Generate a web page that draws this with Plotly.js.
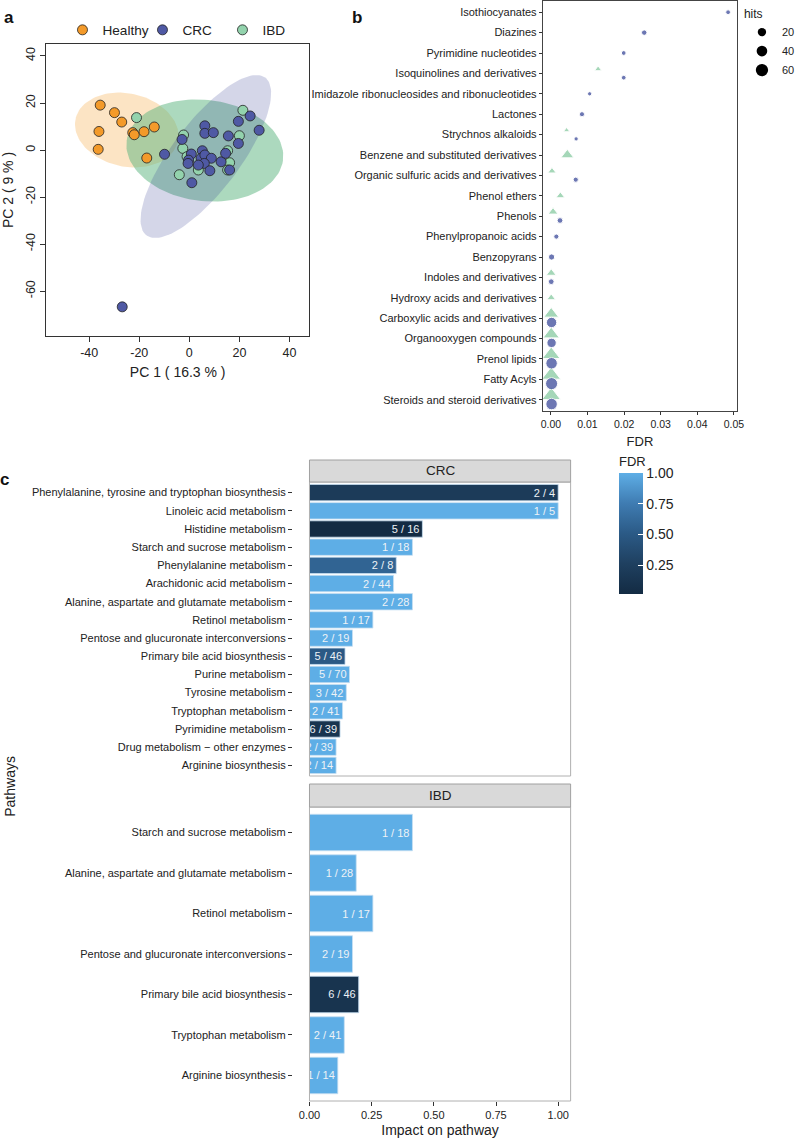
<!DOCTYPE html>
<html><head><meta charset="utf-8">
<script src="https://cdn.plot.ly/plotly-3.0.1.min.js"></script>
<style>html,body{margin:0;padding:0;background:#fff}</style>
</head><body><div id="chart" style="width:800px;height:1138px"></div>
<script>
// ---------------- Panel a: PCA scores ----------------
const healthyPC1 = [-35.6, -29.9, -27.0, -36.1, -36.4, -22.6, -22.0, -18.1, -14.0, -17.0];
const healthyPC2 = [19.1, 15.9, 11.9, 7.9, 0.3, 7.4, 6.5, 7.8, 9.8, -3.4];
const ibdPC1 = [-21.1, -2.3, -2.6, -4.0, 3.6, 15.3, 16.1, 15.3, 20.0, 21.4, -0.9];
const ibdPC2 = [13.8, 6.4, 0.7, -10.5, -8.5, -0.3, -5.4, -8.5, 6.1, 16.9, -2.8];
const crcPC1 = [-9.9, 6.2, 6.2, 9.6, 15.6, 19.6, 24.3, 27.9, 19.6, -2.9, 0.8, -0.3, -0.5, 5.2, 4.7, 6.2, 8.8, 6.0, 3.6, 8.2, 1.0, 12.7, 14.5, 16.1, -26.8];
const crcPC2 = [-1.8, 10.3, 7.1, 7.4, 6.0, 12.2, 14.5, 8.4, 2.8, 4.5, -1.7, -4.3, -5.7, -0.3, -3.5, -2.1, -3.5, -5.7, -6.4, -8.8, -13.9, -5.0, -1.4, -8.5, -66.7];
const pcaXTicks = [-40, -20, 0, 20, 40];
const pcaXTickText = ['-40', '-20', '0', '20', '40'];
const pcaYTicks = [-60, -40, -20, 0, 20, 40];
const pcaYTickText = ['-60', '-40', '-20', '0', '20', '40'];
// confidence ellipses (centre, semi-axes, rotation in degrees)
const ellipseGroups = ['Healthy', 'IBD', 'CRC'];
const ellipseCX = [-25.0, 6.2, 6.6];
const ellipseCY = [8.5, -0.2, -2.75];
const ellipseA = [21.0, 31.5, 41.1];
const ellipseB = [15.5, 21.5, 13.9];
const ellipseAngle = [-15, -8, 55.2];

// ---------------- Panel b: chemical classes ----------------
const chemCategories = ['Isothiocyanates', 'Diazines', 'Pyrimidine nucleotides', 'Isoquinolines and derivatives',
  'Imidazole ribonucleosides and ribonucleotides', 'Lactones', 'Strychnos alkaloids', 'Benzene and substituted derivatives',
  'Organic sulfuric acids and derivatives', 'Phenol ethers', 'Phenols', 'Phenylpropanoic acids', 'Benzopyrans',
  'Indoles and derivatives', 'Hydroxy acids and derivatives', 'Carboxylic acids and derivatives', 'Organooxygen compounds',
  'Prenol lipids', 'Fatty Acyls', 'Steroids and steroid derivatives'];
const crcFDR = [0.0484, 0.0255, 0.0199, 0.0199, 0.0106, 0.0085, 0.0069, null, 0.0068, null, 0.0025, 0.0015, 0.0002, 0.0001, null, 0.0002, 0.0002, 0.0002, 0.0002, 0.0002];
const crcHits = [2, 4, 2, 2, 1, 3, 1, null, 3, null, 5, 3, 7, 5, null, 37, 28, 50, 57, 50];
const ibdFDR = [null, null, null, 0.0129, null, null, 0.0043, 0.0045, 0.0003, 0.0026, 0.0006, null, null, 0.0001, 0.0001, 0.0001, 0.0001, 0.0001, 0.0001, 0.0001];
const ibdHits = [null, null, null, 2, null, null, 1, 20, 4, 5, 8, null, null, 8, 5, 30, 40, 50, 57, 57];
const hitsLegendValues = [20, 40, 60];
const fdrTicks = [0, 0.01, 0.02, 0.03, 0.04, 0.05];

// ---------------- Panel c: pathway impact ----------------
const crcPathways = ['Phenylalanine, tyrosine and tryptophan biosynthesis', 'Linoleic acid metabolism', 'Histidine metabolism',
  'Starch and sucrose metabolism', 'Phenylalanine metabolism', 'Arachidonic acid metabolism',
  'Alanine, aspartate and glutamate metabolism', 'Retinol metabolism', 'Pentose and glucuronate interconversions',
  'Primary bile acid biosynthesis', 'Purine metabolism', 'Tyrosine metabolism', 'Tryptophan metabolism',
  'Pyrimidine metabolism', 'Drug metabolism \u2212 other enzymes', 'Arginine biosynthesis'];
const crcImpact = [1.0, 1.0, 0.454, 0.414, 0.349, 0.338, 0.414, 0.255, 0.173, 0.143, 0.161, 0.148, 0.133, 0.123, 0.107, 0.107];
const crcRatio = ['2 / 4', '1 / 5', '5 / 16', '1 / 18', '2 / 8', '2 / 44', '2 / 28', '1 / 17', '2 / 19', '5 / 46', '5 / 70', '3 / 42', '2 / 41', '6 / 39', '2 / 39', '2 / 14'];
const crcPathFDR = [0.2, 1.0, 0.016, 1.0, 0.58, 1.0, 1.0, 1.0, 1.0, 0.5, 1.0, 1.0, 1.0, 0.12, 1.0, 1.0];
const ibdPathways = ['Starch and sucrose metabolism', 'Alanine, aspartate and glutamate metabolism', 'Retinol metabolism',
  'Pentose and glucuronate interconversions', 'Primary bile acid biosynthesis', 'Tryptophan metabolism', 'Arginine biosynthesis'];
const ibdImpact = [0.414, 0.188, 0.255, 0.173, 0.198, 0.14, 0.114];
const ibdRatio = ['1 / 18', '1 / 28', '1 / 17', '2 / 19', '6 / 46', '2 / 41', '1 / 14'];
const ibdPathFDR = [1.0, 1.0, 1.0, 1.0, 0.12, 1.0, 1.0];
const impactTicks = [0, 0.25, 0.5, 0.75, 1.0];
const fdrBarTicks = [0.25, 0.5, 0.75, 1.0];

// ---------------- helpers ----------------
const FONT = 'Liberation Sans, Arial, Helvetica, sans-serif';
const W = 800, H = 1138;
const px = v => v / W;
const py = v => 1 - v / H;
const hitSize = h => 1.15 * (2.66 + 1.04 * Math.sqrt(h));

function ellipsePath(cx, cy, a, b, deg) {
  const t = deg * Math.PI / 180, xs = [], ys = [];
  for (let k = 0; k <= 120; k++) {
    const u = 2 * Math.PI * k / 120;
    xs.push(cx + a * Math.cos(u) * Math.cos(t) - b * Math.sin(u) * Math.sin(t));
    ys.push(cy + a * Math.cos(u) * Math.sin(t) + b * Math.sin(u) * Math.cos(t));
  }
  return {xs, ys};
}
const ellipseFill = {Healthy: 'rgba(245,165,60,0.30)', IBD: 'rgba(90,180,125,0.50)', CRC: 'rgba(40,50,140,0.20)'};

const traces = [];
ellipseGroups.forEach((g, i) => {
  const e = ellipsePath(ellipseCX[i], ellipseCY[i], ellipseA[i], ellipseB[i], ellipseAngle[i]);
  traces.push({type: 'scatter', mode: 'lines', x: e.xs, y: e.ys, fill: 'toself', fillcolor: ellipseFill[g],
    line: {width: 0}, hoverinfo: 'skip', showlegend: false, xaxis: 'x', yaxis: 'y'});
});
const ptLine = {color: '#222', width: 0.8};
traces.push({type: 'scatter', mode: 'markers', name: 'Healthy', x: healthyPC1, y: healthyPC2, legendrank: 1,
  marker: {color: '#f39a2a', size: 10, line: ptLine}, xaxis: 'x', yaxis: 'y'});
traces.push({type: 'scatter', mode: 'markers', name: 'IBD', x: ibdPC1, y: ibdPC2, legendrank: 3,
  marker: {color: '#93d3ad', size: 10, line: ptLine}, xaxis: 'x', yaxis: 'y'});
traces.push({type: 'scatter', mode: 'markers', name: 'CRC', x: crcPC1, y: crcPC2, legendrank: 2,
  marker: {color: '#4f59a4', size: 10, line: ptLine}, xaxis: 'x', yaxis: 'y'});

// panel b: dodge CRC / IBD inside each class
const dodge = 0.21;
const crcY = chemCategories.map((c, i) => crcFDR[i] == null ? null : (ibdFDR[i] == null ? i : i + dodge));
const ibdY = chemCategories.map((c, i) => ibdFDR[i] == null ? null : (crcFDR[i] == null ? i : i - dodge));
traces.push({type: 'scatter', mode: 'markers', x: ibdFDR, y: ibdY, showlegend: false, xaxis: 'x2', yaxis: 'y2',
  marker: {symbol: 'triangle-up', color: '#7fc79b', size: ibdHits.map(h => h == null ? 0 : hitSize(h) * 1.35)}});
traces.push({type: 'scatter', mode: 'markers', x: crcFDR, y: crcY, showlegend: false, xaxis: 'x2', yaxis: 'y2',
  marker: {symbol: 'circle', color: '#2f3e93', size: crcHits.map(h => h == null ? 0 : hitSize(h))}});
hitsLegendValues.forEach(v => {
  traces.push({type: 'scatter', mode: 'markers', x: [null], y: [null], name: String(v), legend: 'legend2',
    xaxis: 'x2', yaxis: 'y2', marker: {color: '#000', size: hitSize(v)}, hoverinfo: 'skip'});
});

// panel c
const allFDR = crcPathFDR.concat(ibdPathFDR);
const cmin = Math.min(...allFDR), cmax = Math.max(...allFDR);
const cscale = [[0, '#132B43'], [0.25, '#1f4060'], [0.5, '#2b5a86'], [0.75, '#3f7cb2'], [1, '#5eaee6']];
const barText = {family: FONT, size: 11, color: '#eef2f6'};
traces.push({type: 'bar', orientation: 'h', x: crcImpact, y: crcPathways, xaxis: 'x3', yaxis: 'y3', width: 0.9,
  text: crcRatio, textposition: 'inside', insidetextanchor: 'end', constraintext: 'none', textangle: 0,
  insidetextfont: barText, cliponaxis: true, showlegend: false, hoverinfo: 'x+y',
  marker: {color: crcPathFDR, colorscale: cscale, cmin: cmin, cmax: cmax, showscale: true,
    line: {color: '#c8e0f2', width: 0.8},
    colorbar: {x: px(634), xanchor: 'left', y: py(453), yanchor: 'top', len: 141, lenmode: 'pixels',
      thickness: 24, thicknessmode: 'pixels', outlinewidth: 0, xpad: 0, ypad: 0,
      tickvals: fdrBarTicks, tickformat: '.2f', ticks: 'inside', ticklen: 5, tickcolor: '#ffffff',
      tickfont: {family: FONT, size: 14, color: '#222'},
      title: {text: 'FDR', side: 'top', font: {family: FONT, size: 13, color: '#222'}}}}});
traces.push({type: 'bar', orientation: 'h', x: ibdImpact, y: ibdPathways, xaxis: 'x4', yaxis: 'y4', width: 0.9,
  text: ibdRatio, textposition: 'inside', insidetextanchor: 'end', constraintext: 'none', textangle: 0,
  insidetextfont: barText, cliponaxis: true, showlegend: false, hoverinfo: 'x+y',
  marker: {color: ibdPathFDR, colorscale: cscale, cmin: cmin, cmax: cmax, showscale: false,
    line: {color: '#c8e0f2', width: 0.8}}});

const tf = (s) => ({family: FONT, size: s, color: '#222'});
const layout = {
  width: W, height: H, autosize: false, margin: {l: 0, r: 0, t: 0, b: 0},
  paper_bgcolor: '#fff', plot_bgcolor: 'rgba(0,0,0,0)', font: {family: FONT, color: '#222'},
  showlegend: true, hovermode: 'closest',
  legend: {orientation: 'h', x: px(64), y: py(30), xanchor: 'left', yanchor: 'middle', font: tf(13.6),
    bgcolor: 'rgba(0,0,0,0)', itemsizing: 'trace', entrywidth: 35, entrywidthmode: 'pixels', itemwidth: 30},
  legend2: {x: px(760), y: py(2), xanchor: 'left', yanchor: 'top', font: tf(11), itemsizing: 'trace',
    bgcolor: 'rgba(0,0,0,0)', title: {text: 'hits', font: tf(12)}, tracegroupgap: 0, itemwidth: 30},
  // panel a
  xaxis: {domain: [px(47), px(317)], anchor: 'y', range: [-57.3, 48], tickvals: pcaXTicks, ticktext: pcaXTickText,
    ticks: 'outside', ticklen: 5, tickcolor: '#333', showline: true, mirror: true, linecolor: '#333', linewidth: 1,
    showgrid: false, zeroline: false, tickfont: tf(12.5),
    title: {text: 'PC 1 ( 16.3 % )', font: tf(14), standoff: 8}},
  yaxis: {domain: [py(336), py(44)], anchor: 'x', range: [-79.1, 45.1], tickvals: pcaYTicks, ticktext: pcaYTickText,
    tickangle: -90, ticks: 'outside', ticklen: 5, tickcolor: '#333', showline: true, mirror: true, linecolor: '#333',
    linewidth: 1, showgrid: false, zeroline: false, tickfont: tf(12.5),
    title: {text: 'PC 2 ( 9 % )', font: tf(14), standoff: 6}},
  // panel b
  xaxis2: {domain: [px(556), px(755)], anchor: 'y2', range: [-0.0022, 0.05085], tickvals: fdrTicks,
    tickformat: '.2f', ticks: 'outside', ticklen: 3, tickcolor: '#333', showline: true, mirror: true, linecolor: '#444',
    showgrid: false, zeroline: false, tickfont: tf(10.5), title: {text: 'FDR', font: tf(13), standoff: 8}},
  yaxis2: {domain: [py(411), py(1)], anchor: 'x2', range: [19.55, -0.55], tickvals: chemCategories.map((c, i) => i),
    ticktext: chemCategories, ticks: 'outside', ticklen: 3, tickcolor: '#333', showline: true, mirror: true,
    linecolor: '#444', showgrid: false, zeroline: false, tickfont: tf(11)},
  // panel c, CRC facet
  xaxis3: {domain: [px(317), px(584.5)], anchor: 'y3', range: [0, 1.05], showticklabels: false, ticks: '',
    showgrid: false, zeroline: false, showline: false},
  yaxis3: {domain: [py(776), py(482)], anchor: 'free', position: px(299), type: 'category',
    categoryorder: 'array', categoryarray: crcPathways, range: [crcPathways.length - 1 + 0.585, -0.585],
    ticks: 'outside', ticklen: 4, tickcolor: '#333', showline: false, showgrid: false, zeroline: false, tickfont: tf(11)},
  // panel c, IBD facet
  xaxis4: {domain: [px(317), px(584.5)], anchor: 'y4', range: [0, 1.05], tickvals: impactTicks,
    tickformat: '.2f', ticks: 'outside', ticklen: 4, tickcolor: '#333', showgrid: false, zeroline: false,
    showline: false, tickfont: tf(11), title: {text: 'Impact on pathway', font: tf(14), standoff: 6}},
  yaxis4: {domain: [py(1101), py(807)], anchor: 'free', position: px(299), type: 'category',
    categoryorder: 'array', categoryarray: ibdPathways, range: [ibdPathways.length - 1 + 0.63, -0.63],
    ticks: 'outside', ticklen: 4, tickcolor: '#333', showline: false, showgrid: false, zeroline: false, tickfont: tf(11)},
  shapes: [
    {type: 'rect', xref: 'x3 domain', yref: 'y3 domain', x0: 0, x1: 1, y0: 0, y1: 1, line: {color: '#b0b0b0', width: 1}, layer: 'above'},
    {type: 'rect', xref: 'x4 domain', yref: 'y4 domain', x0: 0, x1: 1, y0: 0, y1: 1, line: {color: '#b0b0b0', width: 1}, layer: 'above'},
    {type: 'rect', xref: 'x3 domain', yref: 'y3 domain', x0: 0, x1: 1, y0: 1, y1: 1 + 22 / 294, fillcolor: '#d9d9d9', line: {color: '#a0a0a0', width: 1}},
    {type: 'rect', xref: 'x4 domain', yref: 'y4 domain', x0: 0, x1: 1, y0: 1, y1: 1 + 23 / 294, fillcolor: '#d9d9d9', line: {color: '#a0a0a0', width: 1}}
  ],
  annotations: [
    {text: '<b>a</b>', xref: 'paper', yref: 'paper', x: px(9), y: py(18), xanchor: 'center', yanchor: 'middle', showarrow: false, font: {family: FONT, size: 17, color: '#111'}},
    {text: '<b>b</b>', xref: 'paper', yref: 'paper', x: px(366), y: py(18), xanchor: 'center', yanchor: 'middle', showarrow: false, font: {family: FONT, size: 17, color: '#111'}},
    {text: '<b>c</b>', xref: 'paper', yref: 'paper', x: px(5), y: py(479), xanchor: 'center', yanchor: 'middle', showarrow: false, font: {family: FONT, size: 17, color: '#111'}},
    {text: 'CRC', xref: 'x3 domain', yref: 'y3 domain', x: 0.5, y: 1 + 11 / 294, xanchor: 'center', yanchor: 'middle', showarrow: false, font: tf(13.5)},
    {text: 'IBD', xref: 'x4 domain', yref: 'y4 domain', x: 0.5, y: 1 + 11.5 / 294, xanchor: 'center', yanchor: 'middle', showarrow: false, font: tf(13.5)},
    {text: 'Pathways', xref: 'paper', yref: 'paper', x: px(10), y: py(786), xanchor: 'center', yanchor: 'middle', textangle: -90, showarrow: false, font: tf(14)}
  ]
};
Plotly.newPlot('chart', traces, layout, {displayModeBar: false, staticPlot: true});
</script></body></html>
